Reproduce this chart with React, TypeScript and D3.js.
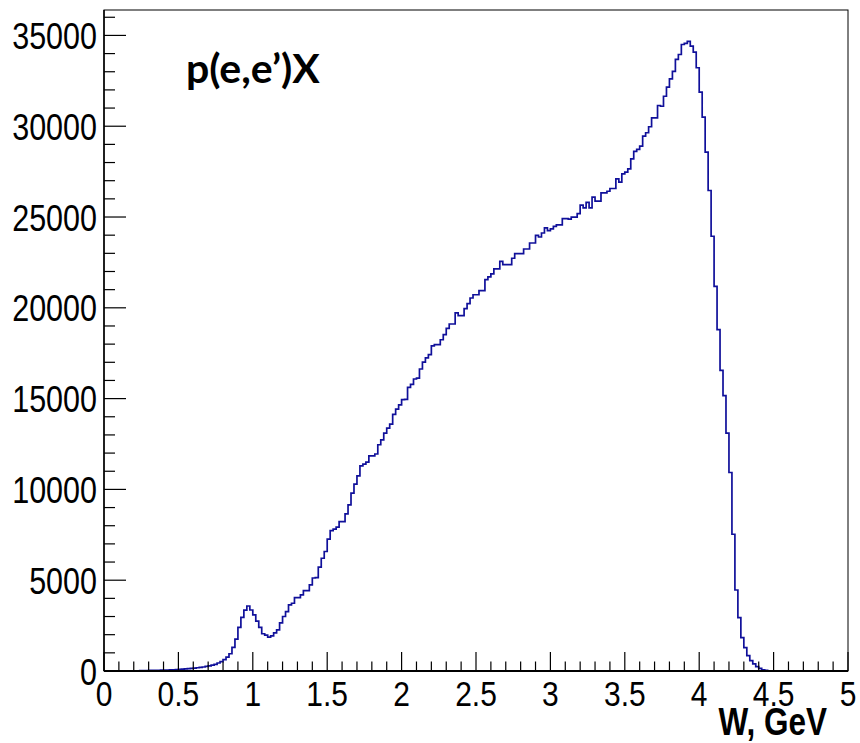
import React, { useEffect, useRef } from "react";
import * as d3 from "d3";

// histogram W, GeV : 250 bins of 0.02 from 0 to 5
const binLow = 0;
const binWidth = 0.02;
const counts = [
  0, 0, 0, 0, 0, 0, 5, 5, 10, 10,
  15, 15, 20, 20, 25, 30, 30, 35, 40, 45,
  50, 55, 60, 70, 80, 90, 100, 115, 130, 145,
  160, 180, 200, 220, 250, 280, 320, 370, 440, 520,
  630, 760, 950, 1300, 1750, 2400, 2950, 3350, 3580, 3360,
  3090, 2750, 2400, 2050, 1980, 1870, 1930, 2100, 2270, 2650,
  3000, 3270, 3640, 3730, 4040, 4040, 4190, 4430, 4430, 4740,
  5120, 5140, 5720, 6210, 6580, 7260, 7730, 7810, 7920, 8230,
  8230, 8650, 9150, 9800, 10290, 10750, 11300, 11390, 11500, 11850,
  11850, 11950, 12460, 12730, 13100, 13380, 13600, 14130, 14420, 14660,
  14940, 14960, 15620, 15780, 16080, 16130, 16630, 17010, 17240, 17420,
  17900, 17970, 17970, 18240, 18520, 18870, 19110, 19110, 19720, 19570,
  19570, 19950, 20230, 20540, 20720, 20720, 20950, 20950, 21550, 21700,
  21870, 22140, 22140, 22560, 22380, 22380, 22380, 22730, 22980, 22980,
  22980, 23240, 23240, 23570, 23570, 23990, 23900, 24120, 24400, 24250,
  24350, 24490, 24570, 24570, 24910, 24910, 24880, 24990, 24990, 25190,
  25650, 25500, 25810, 25500, 26090, 25870, 25870, 26330, 26330, 26420,
  26570, 26570, 27100, 26920, 27380, 27470, 27650, 28200, 28620, 28720,
  28900, 29450, 29640, 29970, 30460, 30460, 31140, 31100, 31650, 32150,
  32610, 33020, 33680, 33950, 34500, 34560, 34670, 34410, 34080, 33220,
  31880, 30500, 28570, 26460, 23940, 21180, 18800, 16550, 15160, 13100,
  10930, 7530, 4460, 2940, 1840, 1290, 850, 570, 390, 240,
  150, 60, 30, 10, 5, 0, 0, 0, 0, 0,
  0, 0, 0, 0, 0, 0, 0, 0, 0, 0,
  0, 0, 0, 0, 0, 0, 0, 0, 0, 0,
];

const xTicks = [0, 0.5, 1, 1.5, 2, 2.5, 3, 3.5, 4, 4.5, 5];
const xTickLabels = ["0", "0.5", "1", "1.5", "2", "2.5", "3", "3.5", "4", "4.5", "5"];
const yTicks = [0, 5000, 10000, 15000, 20000, 25000, 30000, 35000];
const yTickLabels = ["0", "5000", "10000", "15000", "20000", "25000", "30000", "35000"];
const yMax = 36400;

const App = () => {
  const ref = useRef<SVGSVGElement>(null);

  useEffect(() => {
    const svg = d3.select(ref.current);
    svg.selectAll("*").remove();

    const margin = { top: 10, right: 12, bottom: 72, left: 104 };
    const width = 860 - margin.left - margin.right;
    const height = 743 - margin.top - margin.bottom;
    const axisFont = "'Liberation Sans', Arial, Helvetica, sans-serif";

    const x = d3.scaleLinear().domain([0, 5]).range([0, width]);
    const y = d3.scaleLinear().domain([0, yMax]).range([height, 0]);

    const g = svg
      .append("g")
      .attr("transform", `translate(${margin.left}, ${margin.top})`);

    // frame
    g.append("rect")
      .attr("x", 0)
      .attr("y", 0)
      .attr("width", width)
      .attr("height", height)
      .attr("fill", "none")
      .attr("stroke", "black")
      .attr("stroke-width", 1);

    // histogram as steps
    const pts: [number, number][] = counts.map((c, i) => [binLow + i * binWidth, c]);
    pts.push([binLow + counts.length * binWidth, counts[counts.length - 1]]);
    const line = d3
      .line<[number, number]>()
      .x((d) => x(d[0]))
      .y((d) => y(d[1]))
      .curve(d3.curveStepAfter);
    g.append("path")
      .attr("d", line(pts))
      .attr("fill", "none")
      .attr("stroke", "#10109a")
      .attr("stroke-width", 1.7);

    // x axis ticks
    const xMinor = d3.range(0, 51).map((i) => i / 10);
    g.selectAll(".xtick")
      .data(xMinor)
      .enter()
      .append("line")
      .attr("class", "xtick")
      .attr("x1", (d) => x(d))
      .attr("x2", (d) => x(d))
      .attr("y1", height)
      .attr("y2", (d, i) => (i % 5 === 0 ? height - 19 : height - 9.5))
      .attr("stroke", "black")
      .attr("stroke-width", 1.2);

    // y axis ticks
    const yMinor = d3.range(0, yMax, 1000);
    g.selectAll(".ytick")
      .data(yMinor)
      .enter()
      .append("line")
      .attr("class", "ytick")
      .attr("x1", 0)
      .attr("x2", (d) => (d % 5000 === 0 ? 22 : 11))
      .attr("y1", (d) => y(d))
      .attr("y2", (d) => y(d))
      .attr("stroke", "black")
      .attr("stroke-width", 1.2);

    // axis lines
    g.append("line")
      .attr("x1", 0).attr("x2", width)
      .attr("y1", height).attr("y2", height)
      .attr("stroke", "black").attr("stroke-width", 2);
    g.append("line")
      .attr("x1", 0).attr("x2", 0)
      .attr("y1", 0).attr("y2", height)
      .attr("stroke", "black").attr("stroke-width", 1.5);

    // tick labels (ROOT text looks vertically stretched)
    g.selectAll(".xlab")
      .data(xTicks)
      .enter()
      .append("text")
      .attr("class", "xlab")
      .attr("transform", (d) => `translate(${x(d)}, ${height + 35}) scale(1, 1.18)`)
      .attr("text-anchor", "middle")
      .attr("font-family", axisFont)
      .attr("font-size", 30)
      .text((d, i) => xTickLabels[i]);

    g.selectAll(".ylab")
      .data(yTicks)
      .enter()
      .append("text")
      .attr("class", "ylab")
      .attr("transform", (d) => `translate(-7, ${y(d) + 13.5}) scale(1, 1.22)`)
      .attr("text-anchor", "end")
      .attr("font-family", axisFont)
      .attr("font-size", 30.5)
      .text((d, i) => yTickLabels[i]);

    // x axis title
    g.append("text")
      .attr("transform", `translate(${723}, ${height + 64}) scale(1, 1.22)`)
      .attr("text-anchor", "end")
      .attr("font-family", axisFont)
      .attr("font-weight", "bold")
      .attr("font-size", 31.5)
      .text("W, GeV");

    // reaction label
    g.append("text")
      .attr("x", 82)
      .attr("y", 73)
      .attr("font-family", "Lato, 'Open Sans', sans-serif")
      .attr("font-weight", "bold")
      .attr("font-size", 41)
      .text("p(e,e\u2019)X");
  }, []);

  return (
    <svg
      ref={ref}
      width={860}
      height={743}
      style={{ position: "absolute", left: 0, top: 0, background: "white" }}
    />
  );
};

export default App;
